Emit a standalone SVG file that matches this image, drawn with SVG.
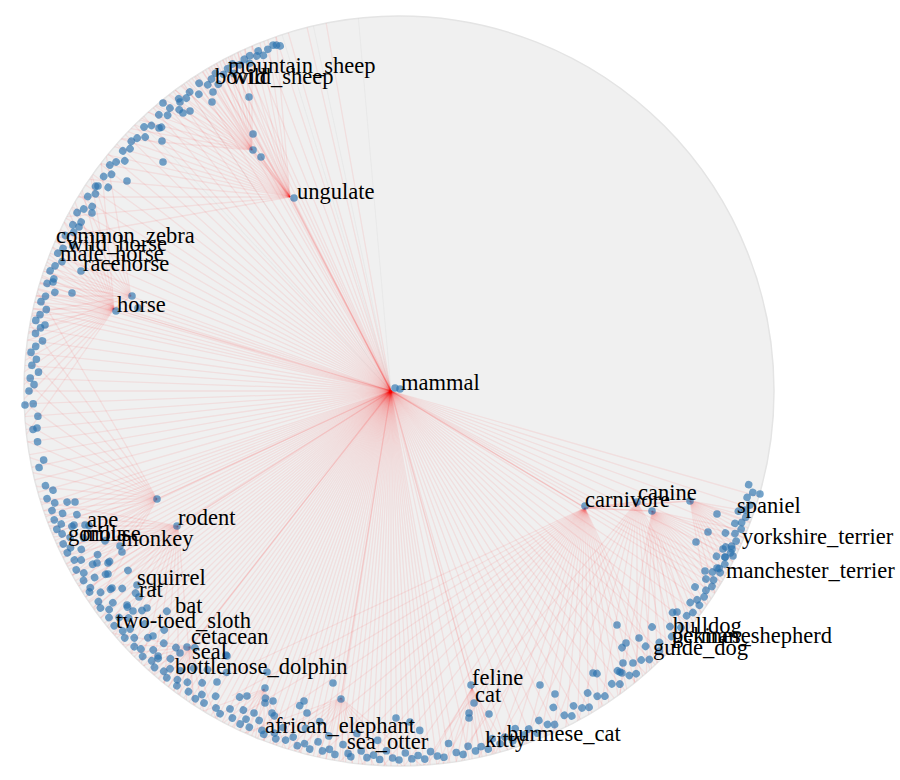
<svg xmlns="http://www.w3.org/2000/svg" width="900" height="780" viewBox="0 0 900 780">
<style>
.e line{stroke:#ff0000;stroke-opacity:.075;stroke-width:1.3}
.e2 line{stroke:#ff0000;stroke-opacity:.14;stroke-width:1.3}
.g line{stroke:#888;stroke-opacity:.07;stroke-width:1}
.d circle,circle.d{fill:#2a72ad;fill-opacity:.65}
text{font-family:"Liberation Serif","Times New Roman",serif;font-size:22.5px;fill:#000}
</style>
<defs>
<clipPath id="disk"><circle cx="399" cy="391" r="375"/></clipPath>
</defs>
<rect width="900" height="780" fill="#fff"/>
<circle id="disk-bg" cx="399" cy="391" r="375" fill="#f0f0f0" stroke="#e4e4e4" stroke-width="1.5"/>
<g id="connectors" clip-path="url(#disk)">
<g class="g" transform="translate(391 391)">
<line x2="450" transform="rotate(-95)"/><line x2="450" transform="rotate(-102)"/><line x2="450" transform="rotate(-124)"/><line x2="450" transform="rotate(-133)"/><line x2="450" transform="rotate(-107)"/>
</g>
<g class="e" transform="translate(391 391)">
<line x2="450" transform="rotate(-100)"/><line x2="450" transform="rotate(-103)"/><line x2="450" transform="rotate(-106)"/><line x2="450" transform="rotate(-108)"/><line x2="450" transform="rotate(-110)"/><line x2="450" transform="rotate(-112)"/><line x2="450" transform="rotate(-114)"/><line x2="450" transform="rotate(-115)"/><line x2="450" transform="rotate(-116)"/><line x2="450" transform="rotate(-117)"/><line x2="450" transform="rotate(-118)"/><line x2="450" transform="rotate(-119)"/><line x2="450" transform="rotate(-120)"/><line x2="450" transform="rotate(-122)"/><line x2="450" transform="rotate(-124)"/><line x2="450" transform="rotate(-126)"/><line x2="450" transform="rotate(-128)"/><line x2="450" transform="rotate(-130)"/><line x2="450" transform="rotate(-132)"/><line x2="450" transform="rotate(-134)"/><line x2="450" transform="rotate(-136)"/><line x2="450" transform="rotate(-138)"/><line x2="450" transform="rotate(-140)"/><line x2="450" transform="rotate(-142)"/><line x2="450" transform="rotate(-144)"/><line x2="450" transform="rotate(-146)"/><line x2="450" transform="rotate(-148)"/><line x2="450" transform="rotate(-150)"/><line x2="450" transform="rotate(-152)"/><line x2="450" transform="rotate(-154)"/><line x2="450" transform="rotate(-156)"/><line x2="450" transform="rotate(-158)"/><line x2="450" transform="rotate(-160)"/><line x2="450" transform="rotate(-161)"/><line x2="450" transform="rotate(-162)"/><line x2="450" transform="rotate(-163)"/><line x2="450" transform="rotate(-164)"/><line x2="450" transform="rotate(-165)"/><line x2="450" transform="rotate(-166)"/><line x2="450" transform="rotate(-167)"/><line x2="450" transform="rotate(-168)"/><line x2="450" transform="rotate(-170)"/><line x2="450" transform="rotate(-172)"/><line x2="450" transform="rotate(-174)"/><line x2="450" transform="rotate(-176)"/><line x2="450" transform="rotate(-178)"/><line x2="450" transform="rotate(-180)"/><line x2="450" transform="rotate(-182)"/><line x2="450" transform="rotate(-184)"/><line x2="450" transform="rotate(-186)"/><line x2="450" transform="rotate(-188)"/><line x2="450" transform="rotate(-190)"/><line x2="450" transform="rotate(-192)"/><line x2="450" transform="rotate(-194)"/><line x2="450" transform="rotate(-196)"/><line x2="450" transform="rotate(-198)"/><line x2="450" transform="rotate(-199)"/><line x2="450" transform="rotate(-200)"/><line x2="450" transform="rotate(-201)"/><line x2="450" transform="rotate(-202)"/><line x2="450" transform="rotate(-203)"/><line x2="450" transform="rotate(-204)"/><line x2="450" transform="rotate(-205)"/><line x2="450" transform="rotate(-206)"/><line x2="450" transform="rotate(-207)"/><line x2="450" transform="rotate(-208)"/><line x2="450" transform="rotate(-209)"/><line x2="450" transform="rotate(-210)"/><line x2="450" transform="rotate(-211)"/><line x2="450" transform="rotate(-212)"/><line x2="450" transform="rotate(-213)"/><line x2="450" transform="rotate(-214)"/><line x2="450" transform="rotate(-215)"/><line x2="450" transform="rotate(-216)"/><line x2="450" transform="rotate(-217)"/><line x2="450" transform="rotate(-218)"/><line x2="450" transform="rotate(-219)"/><line x2="450" transform="rotate(-220)"/><line x2="450" transform="rotate(-221)"/><line x2="450" transform="rotate(-222)"/><line x2="450" transform="rotate(-223)"/><line x2="450" transform="rotate(-224)"/><line x2="450" transform="rotate(-225)"/><line x2="450" transform="rotate(-226)"/><line x2="450" transform="rotate(-227)"/><line x2="450" transform="rotate(-228)"/><line x2="450" transform="rotate(-229)"/><line x2="450" transform="rotate(-230)"/><line x2="450" transform="rotate(-231)"/><line x2="450" transform="rotate(-232)"/><line x2="450" transform="rotate(-233)"/><line x2="450" transform="rotate(-234)"/><line x2="450" transform="rotate(-235)"/><line x2="450" transform="rotate(-236)"/><line x2="450" transform="rotate(-237)"/><line x2="450" transform="rotate(-238)"/><line x2="450" transform="rotate(-239)"/><line x2="450" transform="rotate(-240)"/><line x2="450" transform="rotate(-241)"/><line x2="450" transform="rotate(-242)"/><line x2="450" transform="rotate(-243)"/><line x2="450" transform="rotate(-244)"/><line x2="450" transform="rotate(-245)"/><line x2="450" transform="rotate(-246)"/><line x2="450" transform="rotate(-247)"/><line x2="450" transform="rotate(-248)"/><line x2="450" transform="rotate(-249)"/><line x2="450" transform="rotate(-250)"/><line x2="450" transform="rotate(-251)"/><line x2="450" transform="rotate(-252)"/><line x2="450" transform="rotate(-253)"/><line x2="450" transform="rotate(-254)"/><line x2="450" transform="rotate(-255)"/><line x2="450" transform="rotate(-256)"/><line x2="450" transform="rotate(-257)"/><line x2="450" transform="rotate(-258)"/><line x2="450" transform="rotate(-259)"/><line x2="450" transform="rotate(-260)"/><line x2="450" transform="rotate(-261)"/><line x2="450" transform="rotate(-262)"/><line x2="450" transform="rotate(-263)"/><line x2="450" transform="rotate(-264)"/><line x2="450" transform="rotate(-265)"/><line x2="450" transform="rotate(-266)"/><line x2="450" transform="rotate(-267)"/><line x2="450" transform="rotate(-268)"/><line x2="450" transform="rotate(-269)"/><line x2="450" transform="rotate(-270)"/><line x2="450" transform="rotate(-271)"/><line x2="450" transform="rotate(-272)"/><line x2="450" transform="rotate(-273)"/><line x2="450" transform="rotate(-274)"/><line x2="450" transform="rotate(-275)"/><line x2="450" transform="rotate(-276)"/><line x2="450" transform="rotate(-277)"/><line x2="450" transform="rotate(-278)"/><line x2="450" transform="rotate(-279)"/><line x2="450" transform="rotate(-280)"/><line x2="450" transform="rotate(-282)"/><line x2="450" transform="rotate(-284)"/><line x2="450" transform="rotate(-286)"/><line x2="450" transform="rotate(-288)"/><line x2="450" transform="rotate(-290)"/><line x2="450" transform="rotate(-292)"/><line x2="450" transform="rotate(-294)"/><line x2="450" transform="rotate(-296)"/><line x2="450" transform="rotate(-298)"/><line x2="450" transform="rotate(-300)"/><line x2="450" transform="rotate(-302)"/><line x2="450" transform="rotate(-304)"/><line x2="450" transform="rotate(-306)"/><line x2="450" transform="rotate(-308)"/><line x2="450" transform="rotate(-310)"/><line x2="450" transform="rotate(-312)"/><line x2="450" transform="rotate(-314)"/><line x2="450" transform="rotate(-316)"/><line x2="450" transform="rotate(-318)"/><line x2="450" transform="rotate(-320)"/><line x2="450" transform="rotate(-322)"/><line x2="450" transform="rotate(-324)"/><line x2="450" transform="rotate(-326)"/><line x2="450" transform="rotate(-328)"/><line x2="450" transform="rotate(-329)"/><line x2="450" transform="rotate(-330)"/><line x2="450" transform="rotate(-331)"/><line x2="450" transform="rotate(-332)"/><line x2="450" transform="rotate(-334)"/><line x2="450" transform="rotate(-336)"/><line x2="450" transform="rotate(-338)"/><line x2="450" transform="rotate(-340)"/><line x2="450" transform="rotate(-342)"/><line x2="450" transform="rotate(-344)"/>
</g>
<g class="e2">
<line x1="391" y1="391" x2="290" y2="197"/><line x1="391" y1="391" x2="292" y2="199"/><line x1="391" y1="391" x2="114" y2="309"/><line x1="391" y1="391" x2="157" y2="499"/><line x1="391" y1="391" x2="178" y2="526"/><line x1="391" y1="391" x2="585" y2="508"/><line x1="391" y1="391" x2="190" y2="647"/><line x1="391" y1="391" x2="341" y2="698"/><line x1="391" y1="391" x2="472" y2="688"/><line x1="290" y1="197" x2="252" y2="150"/><line x1="290" y1="197" x2="253" y2="134"/><line x1="290" y1="197" x2="261" y2="157"/><line x1="585" y1="508" x2="637" y2="502"/><line x1="585" y1="508" x2="652" y2="511"/><line x1="585" y1="508" x2="690" y2="501"/><line x1="114" y1="309" x2="131" y2="296"/>
</g>
<g class="e" transform="translate(290 197)">
<line x2="500" transform="rotate(-95)"/><line x2="500" transform="rotate(-98)"/><line x2="500" transform="rotate(-101)"/><line x2="500" transform="rotate(-104)"/><line x2="500" transform="rotate(-107)"/><line x2="500" transform="rotate(-110)"/><line x2="500" transform="rotate(-113)"/><line x2="500" transform="rotate(-116)"/><line x2="500" transform="rotate(-119)"/><line x2="500" transform="rotate(-122)"/><line x2="500" transform="rotate(-125)"/><line x2="500" transform="rotate(-128)"/><line x2="500" transform="rotate(-131)"/><line x2="500" transform="rotate(-134)"/><line x2="500" transform="rotate(-137)"/><line x2="500" transform="rotate(-140)"/><line x2="500" transform="rotate(-143)"/><line x2="500" transform="rotate(-146)"/><line x2="500" transform="rotate(-149)"/><line x2="500" transform="rotate(-152)"/><line x2="500" transform="rotate(-155)"/><line x2="500" transform="rotate(-158)"/><line x2="500" transform="rotate(-161)"/><line x2="500" transform="rotate(-164)"/><line x2="500" transform="rotate(-167)"/><line x2="500" transform="rotate(-170)"/><line x2="500" transform="rotate(-175)"/><line x2="500" transform="rotate(-180)"/><line x2="500" transform="rotate(-185)"/><line x2="500" transform="rotate(-190)"/>
</g>
<g class="e" transform="translate(252 150)">
<line x2="400" transform="rotate(-90)"/><line x2="400" transform="rotate(-94)"/><line x2="400" transform="rotate(-98)"/><line x2="400" transform="rotate(-102)"/><line x2="400" transform="rotate(-106)"/><line x2="400" transform="rotate(-110)"/><line x2="400" transform="rotate(-114)"/><line x2="400" transform="rotate(-118)"/><line x2="400" transform="rotate(-122)"/><line x2="400" transform="rotate(-126)"/><line x2="400" transform="rotate(-130)"/><line x2="400" transform="rotate(-134)"/><line x2="400" transform="rotate(-138)"/><line x2="400" transform="rotate(-142)"/><line x2="400" transform="rotate(-146)"/><line x2="400" transform="rotate(-150)"/><line x2="400" transform="rotate(-155)"/><line x2="400" transform="rotate(-160)"/><line x2="400" transform="rotate(-165)"/><line x2="400" transform="rotate(-170)"/><line x2="400" transform="rotate(-175)"/>
</g>
<g class="e" transform="translate(114 309)">
<line x2="400" transform="rotate(-95)"/><line x2="400" transform="rotate(-100)"/><line x2="400" transform="rotate(-105)"/><line x2="400" transform="rotate(-110)"/><line x2="400" transform="rotate(-115)"/><line x2="400" transform="rotate(-120)"/><line x2="400" transform="rotate(-125)"/><line x2="400" transform="rotate(-130)"/><line x2="400" transform="rotate(-135)"/><line x2="400" transform="rotate(-140)"/><line x2="400" transform="rotate(-145)"/><line x2="400" transform="rotate(-150)"/><line x2="400" transform="rotate(-155)"/><line x2="400" transform="rotate(-160)"/><line x2="400" transform="rotate(-165)"/><line x2="400" transform="rotate(-170)"/><line x2="400" transform="rotate(-175)"/><line x2="400" transform="rotate(-180)"/><line x2="400" transform="rotate(-185)"/><line x2="400" transform="rotate(-190)"/><line x2="400" transform="rotate(-195)"/><line x2="400" transform="rotate(-200)"/><line x2="400" transform="rotate(-205)"/><line x2="400" transform="rotate(-210)"/><line x2="400" transform="rotate(-215)"/><line x2="400" transform="rotate(-220)"/><line x2="400" transform="rotate(-225)"/><line x2="400" transform="rotate(-230)"/><line x2="400" transform="rotate(-235)"/>
</g>
<g class="e" transform="translate(131 296)">
<line x2="400" transform="rotate(-100)"/><line x2="400" transform="rotate(-108)"/><line x2="400" transform="rotate(-116)"/><line x2="400" transform="rotate(-124)"/><line x2="400" transform="rotate(-132)"/><line x2="400" transform="rotate(-140)"/><line x2="400" transform="rotate(-148)"/><line x2="400" transform="rotate(-156)"/><line x2="400" transform="rotate(-164)"/><line x2="400" transform="rotate(-172)"/><line x2="400" transform="rotate(-180)"/><line x2="400" transform="rotate(-190)"/><line x2="400" transform="rotate(-200)"/>
</g>
<g class="e" transform="translate(157 499)">
<line x2="300" transform="rotate(-120)"/><line x2="300" transform="rotate(-126)"/><line x2="300" transform="rotate(-132)"/><line x2="300" transform="rotate(-138)"/><line x2="300" transform="rotate(-144)"/><line x2="300" transform="rotate(-150)"/><line x2="300" transform="rotate(-156)"/><line x2="300" transform="rotate(-162)"/><line x2="300" transform="rotate(-168)"/><line x2="300" transform="rotate(-174)"/><line x2="300" transform="rotate(-180)"/><line x2="300" transform="rotate(-186)"/><line x2="300" transform="rotate(-192)"/><line x2="300" transform="rotate(-198)"/><line x2="300" transform="rotate(-204)"/><line x2="300" transform="rotate(-210)"/><line x2="300" transform="rotate(-216)"/><line x2="300" transform="rotate(-222)"/><line x2="300" transform="rotate(-228)"/><line x2="300" transform="rotate(-234)"/><line x2="300" transform="rotate(-240)"/>
</g>
<g class="e" transform="translate(178 526)">
<line x2="300" transform="rotate(-170)"/><line x2="300" transform="rotate(-175)"/><line x2="300" transform="rotate(-180)"/><line x2="300" transform="rotate(-185)"/><line x2="300" transform="rotate(-190)"/><line x2="300" transform="rotate(-195)"/><line x2="300" transform="rotate(-200)"/><line x2="300" transform="rotate(-205)"/><line x2="300" transform="rotate(-210)"/><line x2="300" transform="rotate(-215)"/><line x2="300" transform="rotate(-220)"/><line x2="300" transform="rotate(-225)"/><line x2="300" transform="rotate(-230)"/><line x2="300" transform="rotate(-235)"/><line x2="300" transform="rotate(-240)"/><line x2="300" transform="rotate(-245)"/><line x2="300" transform="rotate(-250)"/><line x2="300" transform="rotate(-255)"/><line x2="300" transform="rotate(-260)"/><line x2="300" transform="rotate(-265)"/><line x2="300" transform="rotate(-270)"/><line x2="300" transform="rotate(-275)"/>
</g>
<g class="e" transform="translate(190 647)">
<line x2="200" transform="rotate(-170)"/><line x2="200" transform="rotate(-178)"/><line x2="200" transform="rotate(-186)"/><line x2="200" transform="rotate(-194)"/><line x2="200" transform="rotate(-202)"/><line x2="200" transform="rotate(-210)"/><line x2="200" transform="rotate(-218)"/><line x2="200" transform="rotate(-226)"/><line x2="200" transform="rotate(-234)"/><line x2="200" transform="rotate(-242)"/><line x2="200" transform="rotate(-250)"/><line x2="200" transform="rotate(-258)"/><line x2="200" transform="rotate(-266)"/><line x2="200" transform="rotate(-274)"/><line x2="200" transform="rotate(-282)"/><line x2="200" transform="rotate(-290)"/>
</g>
<g class="e" transform="translate(341 698)">
<line x2="200" transform="rotate(-200)"/><line x2="200" transform="rotate(-208)"/><line x2="200" transform="rotate(-216)"/><line x2="200" transform="rotate(-224)"/><line x2="200" transform="rotate(-232)"/><line x2="200" transform="rotate(-240)"/><line x2="200" transform="rotate(-248)"/><line x2="200" transform="rotate(-256)"/><line x2="200" transform="rotate(-264)"/><line x2="200" transform="rotate(-272)"/><line x2="200" transform="rotate(-280)"/><line x2="200" transform="rotate(-288)"/><line x2="200" transform="rotate(-296)"/><line x2="200" transform="rotate(-304)"/><line x2="200" transform="rotate(-312)"/><line x2="200" transform="rotate(-320)"/>
</g>
<g class="e" transform="translate(264 689)">
<line x2="200" transform="rotate(-200)"/><line x2="200" transform="rotate(-210)"/><line x2="200" transform="rotate(-220)"/><line x2="200" transform="rotate(-230)"/><line x2="200" transform="rotate(-240)"/><line x2="200" transform="rotate(-250)"/><line x2="200" transform="rotate(-260)"/><line x2="200" transform="rotate(-270)"/><line x2="200" transform="rotate(-280)"/><line x2="200" transform="rotate(-290)"/><line x2="200" transform="rotate(-300)"/>
</g>
<g class="e" transform="translate(472 688)">
<line x2="200" transform="rotate(-240)"/><line x2="200" transform="rotate(-246)"/><line x2="200" transform="rotate(-252)"/><line x2="200" transform="rotate(-258)"/><line x2="200" transform="rotate(-264)"/><line x2="200" transform="rotate(-270)"/><line x2="200" transform="rotate(-276)"/><line x2="200" transform="rotate(-282)"/><line x2="200" transform="rotate(-288)"/><line x2="200" transform="rotate(-294)"/><line x2="200" transform="rotate(-300)"/>
</g>
<g class="e" transform="translate(585 508)">
<line x2="400" transform="rotate(-205)"/><line x2="400" transform="rotate(-208)"/><line x2="400" transform="rotate(-211)"/><line x2="400" transform="rotate(-214)"/><line x2="400" transform="rotate(-217)"/><line x2="400" transform="rotate(-220)"/><line x2="400" transform="rotate(-223)"/><line x2="400" transform="rotate(-226)"/><line x2="400" transform="rotate(-229)"/><line x2="400" transform="rotate(-232)"/><line x2="400" transform="rotate(-235)"/><line x2="400" transform="rotate(-238)"/><line x2="400" transform="rotate(-241)"/><line x2="400" transform="rotate(-244)"/><line x2="400" transform="rotate(-247)"/><line x2="400" transform="rotate(-250)"/><line x2="400" transform="rotate(-253)"/><line x2="400" transform="rotate(-256)"/><line x2="400" transform="rotate(-259)"/><line x2="400" transform="rotate(-262)"/><line x2="400" transform="rotate(-265)"/><line x2="400" transform="rotate(-268)"/><line x2="400" transform="rotate(-271)"/><line x2="400" transform="rotate(-274)"/><line x2="400" transform="rotate(-277)"/><line x2="400" transform="rotate(-280)"/><line x2="400" transform="rotate(-283)"/><line x2="400" transform="rotate(-286)"/><line x2="400" transform="rotate(-289)"/><line x2="400" transform="rotate(-292)"/><line x2="400" transform="rotate(-295)"/>
</g>
<g class="e" transform="translate(637 502)">
<line x2="300" transform="rotate(-230)"/><line x2="300" transform="rotate(-235)"/><line x2="300" transform="rotate(-240)"/><line x2="300" transform="rotate(-245)"/><line x2="300" transform="rotate(-250)"/><line x2="300" transform="rotate(-255)"/><line x2="300" transform="rotate(-260)"/><line x2="300" transform="rotate(-265)"/><line x2="300" transform="rotate(-270)"/><line x2="300" transform="rotate(-275)"/><line x2="300" transform="rotate(-280)"/><line x2="300" transform="rotate(-285)"/><line x2="300" transform="rotate(-290)"/><line x2="300" transform="rotate(-295)"/><line x2="300" transform="rotate(-300)"/>
</g>
<g class="e" transform="translate(652 511)">
<line x2="300" transform="rotate(-260)"/><line x2="300" transform="rotate(-264)"/><line x2="300" transform="rotate(-268)"/><line x2="300" transform="rotate(-272)"/><line x2="300" transform="rotate(-276)"/><line x2="300" transform="rotate(-280)"/><line x2="300" transform="rotate(-284)"/><line x2="300" transform="rotate(-288)"/><line x2="300" transform="rotate(-292)"/><line x2="300" transform="rotate(-296)"/><line x2="300" transform="rotate(-300)"/><line x2="300" transform="rotate(-304)"/><line x2="300" transform="rotate(-308)"/><line x2="300" transform="rotate(-312)"/><line x2="300" transform="rotate(-316)"/><line x2="300" transform="rotate(-320)"/><line x2="300" transform="rotate(-324)"/><line x2="300" transform="rotate(-328)"/><line x2="300" transform="rotate(-332)"/><line x2="300" transform="rotate(-336)"/><line x2="300" transform="rotate(-340)"/><line x2="300" transform="rotate(-344)"/><line x2="300" transform="rotate(-348)"/>
</g>
<g class="e" transform="translate(690 501)">
<line x2="300" transform="rotate(-280)"/><line x2="300" transform="rotate(-285)"/><line x2="300" transform="rotate(-290)"/><line x2="300" transform="rotate(-295)"/><line x2="300" transform="rotate(-300)"/><line x2="300" transform="rotate(-305)"/><line x2="300" transform="rotate(-310)"/><line x2="300" transform="rotate(-315)"/><line x2="300" transform="rotate(-320)"/><line x2="300" transform="rotate(-325)"/><line x2="300" transform="rotate(-330)"/><line x2="300" transform="rotate(-335)"/><line x2="300" transform="rotate(-340)"/><line x2="300" transform="rotate(-345)"/><line x2="300" transform="rotate(-350)"/>
</g>
</g>
<g id="leaves" class="d">
<g transform="translate(399 391)">
<circle r="3.8" cx="367" transform="rotate(-109.5)"/><circle r="3.8" cx="365" transform="rotate(-109)"/><circle r="3.8" cx="368" transform="rotate(-110)"/><circle r="3.8" cx="366" transform="rotate(-111)"/><circle r="3.8" cx="362" transform="rotate(-112)"/><circle r="3.8" cx="368" transform="rotate(-112.5)"/><circle r="3.8" cx="364" transform="rotate(-113)"/><circle r="3.8" cx="367" transform="rotate(-114)"/><circle r="3.8" cx="360" transform="rotate(-114.5)"/><circle r="3.8" cx="366" transform="rotate(-115)"/><circle r="3.8" cx="363" transform="rotate(-116)"/><circle r="3.8" cx="367" transform="rotate(-117)"/><circle r="3.8" cx="358" transform="rotate(-117.5)"/><circle r="3.8" cx="365" transform="rotate(-118)"/><circle r="3.8" cx="362" transform="rotate(-119)"/><circle r="3.8" cx="367" transform="rotate(-120)"/><circle r="3.8" cx="356" transform="rotate(-120.5)"/><circle r="3.8" cx="364" transform="rotate(-121)"/><circle r="3.8" cx="361" transform="rotate(-122)"/><circle r="3.8" cx="367" transform="rotate(-123)"/><circle r="3.8" cx="358" transform="rotate(-124)"/><circle r="3.8" cx="365" transform="rotate(-125)"/><circle r="3.8" cx="362" transform="rotate(-126)"/><circle r="3.8" cx="366" transform="rotate(-127)"/><circle r="3.8" cx="357" transform="rotate(-128)"/><circle r="3.8" cx="364" transform="rotate(-129)"/><circle r="3.8" cx="360" transform="rotate(-130)"/><circle r="3.8" cx="366" transform="rotate(-131)"/><circle r="3.8" cx="355" transform="rotate(-132)"/><circle r="3.8" cx="363" transform="rotate(-133)"/><circle r="3.8" cx="367" transform="rotate(-134)"/><circle r="3.8" cx="359" transform="rotate(-135)"/><circle r="3.8" cx="364" transform="rotate(-136)"/><circle r="3.8" cx="366" transform="rotate(-137)"/>
<circle r="3.8" cx="362" transform="rotate(-138)"/><circle r="3.8" cx="366" transform="rotate(-139)"/><circle r="3.8" cx="358" transform="rotate(-140)"/><circle r="3.8" cx="364" transform="rotate(-141)"/><circle r="3.8" cx="367" transform="rotate(-142)"/><circle r="3.8" cx="360" transform="rotate(-143)"/><circle r="3.8" cx="365" transform="rotate(-144)"/><circle r="3.8" cx="355" transform="rotate(-145)"/><circle r="3.8" cx="366" transform="rotate(-146)"/><circle r="3.8" cx="362" transform="rotate(-147)"/><circle r="3.8" cx="367" transform="rotate(-148)"/><circle r="3.8" cx="358" transform="rotate(-149)"/><circle r="3.8" cx="364" transform="rotate(-150)"/><circle r="3.8" cx="368" transform="rotate(-151)"/><circle r="3.8" cx="360" transform="rotate(-152)"/><circle r="3.8" cx="366" transform="rotate(-153)"/><circle r="3.8" cx="362" transform="rotate(-154)"/><circle r="3.8" cx="368" transform="rotate(-155)"/><circle r="3.8" cx="357" transform="rotate(-156)"/><circle r="3.8" cx="365" transform="rotate(-157)"/><circle r="3.8" cx="368" transform="rotate(-158)"/><circle r="3.8" cx="361" transform="rotate(-159)"/><circle r="3.8" cx="366" transform="rotate(-160)"/><circle r="3.8" cx="369" transform="rotate(-161)"/><circle r="3.8" cx="363" transform="rotate(-162)"/><circle r="3.8" cx="368" transform="rotate(-163)"/><circle r="3.8" cx="358" transform="rotate(-164)"/><circle r="3.8" cx="366" transform="rotate(-165)"/><circle r="3.8" cx="369" transform="rotate(-166)"/><circle r="3.8" cx="362" transform="rotate(-167)"/><circle r="3.8" cx="367" transform="rotate(-168)"/><circle r="3.8" cx="370" transform="rotate(-169)"/><circle r="3.8" cx="364" transform="rotate(-170)"/><circle r="3.8" cx="368" transform="rotate(-171)"/><circle r="3.8" cx="360" transform="rotate(-172)"/>
<circle r="3.8" cx="366" transform="rotate(-173)"/><circle r="3.8" cx="370" transform="rotate(-174)"/><circle r="3.8" cx="364" transform="rotate(-175)"/><circle r="3.8" cx="368" transform="rotate(-176)"/><circle r="3.8" cx="361" transform="rotate(-177)"/><circle r="3.8" cx="369" transform="rotate(-178)"/><circle r="3.8" cx="365" transform="rotate(-179)"/><circle r="3.8" cx="370" transform="rotate(-180)"/><circle r="3.8" cx="366" transform="rotate(-182)"/><circle r="3.8" cx="362" transform="rotate(-184)"/><circle r="3.8" cx="368" transform="rotate(-186)"/><circle r="3.8" cx="365" transform="rotate(-188)"/><circle r="3.8" cx="362" transform="rotate(-191)"/><circle r="3.8" cx="368" transform="rotate(-192)"/>
<circle r="3.8" cx="366" transform="rotate(-195)"/><circle r="3.8" cx="360" transform="rotate(-196)"/><circle r="3.8" cx="368" transform="rotate(-197)"/><circle r="3.8" cx="362" transform="rotate(-198)"/><circle r="3.8" cx="350" transform="rotate(-198.5)"/><circle r="3.8" cx="367" transform="rotate(-199)"/><circle r="3.8" cx="358" transform="rotate(-200)"/><circle r="3.8" cx="368" transform="rotate(-200.5)"/><circle r="3.8" cx="345" transform="rotate(-201)"/><circle r="3.8" cx="363" transform="rotate(-201.5)"/><circle r="3.8" cx="369" transform="rotate(-202)"/><circle r="3.8" cx="354" transform="rotate(-202.5)"/><circle r="3.8" cx="366" transform="rotate(-203)"/><circle r="3.8" cx="338" transform="rotate(-203.5)"/><circle r="3.8" cx="360" transform="rotate(-204)"/><circle r="3.8" cx="369" transform="rotate(-204.5)"/><circle r="3.8" cx="348" transform="rotate(-205)"/><circle r="3.8" cx="364" transform="rotate(-205.5)"/><circle r="3.8" cx="369" transform="rotate(-206)"/><circle r="3.8" cx="355" transform="rotate(-206.5)"/><circle r="3.8" cx="330" transform="rotate(-207)"/><circle r="3.8" cx="366" transform="rotate(-207.5)"/><circle r="3.8" cx="360" transform="rotate(-208)"/><circle r="3.8" cx="343" transform="rotate(-208.5)"/><circle r="3.8" cx="369" transform="rotate(-209)"/><circle r="3.8" cx="352" transform="rotate(-209.5)"/><circle r="3.8" cx="364" transform="rotate(-210)"/><circle r="3.8" cx="336" transform="rotate(-210.5)"/><circle r="3.8" cx="368" transform="rotate(-211)"/><circle r="3.8" cx="357" transform="rotate(-211.5)"/><circle r="3.8" cx="346" transform="rotate(-212)"/><circle r="3.8" cx="366" transform="rotate(-212.5)"/><circle r="3.8" cx="369" transform="rotate(-213)"/><circle r="3.8" cx="325" transform="rotate(-213.5)"/><circle r="3.8" cx="360" transform="rotate(-214)"/><circle r="3.8" cx="350" transform="rotate(-214.5)"/><circle r="3.8" cx="367" transform="rotate(-215)"/><circle r="3.8" cx="340" transform="rotate(-215.5)"/><circle r="3.8" cx="369" transform="rotate(-216)"/><circle r="3.8" cx="356" transform="rotate(-216.5)"/><circle r="3.8" cx="363" transform="rotate(-217)"/><circle r="3.8" cx="332" transform="rotate(-217.5)"/><circle r="3.8" cx="368" transform="rotate(-218)"/><circle r="3.8" cx="347" transform="rotate(-218.5)"/><circle r="3.8" cx="360" transform="rotate(-219)"/><circle r="3.8" cx="369" transform="rotate(-219.5)"/><circle r="3.8" cx="353" transform="rotate(-220)"/><circle r="3.8" cx="338" transform="rotate(-220.5)"/><circle r="3.8" cx="366" transform="rotate(-221)"/><circle r="3.8" cx="359" transform="rotate(-221.5)"/><circle r="3.8" cx="369" transform="rotate(-222)"/><circle r="3.8" cx="345" transform="rotate(-222.5)"/><circle r="3.8" cx="362" transform="rotate(-223)"/><circle r="3.8" cx="320" transform="rotate(-223.5)"/><circle r="3.8" cx="368" transform="rotate(-224)"/><circle r="3.8" cx="352" transform="rotate(-224.5)"/><circle r="3.8" cx="365" transform="rotate(-225)"/><circle r="3.8" cx="335" transform="rotate(-225.5)"/><circle r="3.8" cx="369" transform="rotate(-226)"/><circle r="3.8" cx="357" transform="rotate(-226.5)"/><circle r="3.8" cx="345" transform="rotate(-227)"/><circle r="3.8" cx="366" transform="rotate(-227.5)"/><circle r="3.8" cx="360" transform="rotate(-228)"/><circle r="3.8" cx="369" transform="rotate(-228.5)"/><circle r="3.8" cx="340" transform="rotate(-229)"/><circle r="3.8" cx="352" transform="rotate(-229.5)"/><circle r="3.8" cx="366" transform="rotate(-230)"/><circle r="3.8" cx="360" transform="rotate(-230.5)"/><circle r="3.8" cx="369" transform="rotate(-231)"/><circle r="3.8" cx="328" transform="rotate(-231.5)"/><circle r="3.8" cx="355" transform="rotate(-232)"/><circle r="3.8" cx="364" transform="rotate(-232.5)"/><circle r="3.8" cx="369" transform="rotate(-233)"/><circle r="3.8" cx="345" transform="rotate(-233.5)"/><circle r="3.8" cx="360" transform="rotate(-234)"/><circle r="3.8" cx="367" transform="rotate(-235)"/><circle r="3.8" cx="338" transform="rotate(-235.5)"/><circle r="3.8" cx="352" transform="rotate(-236)"/><circle r="3.8" cx="369" transform="rotate(-236.5)"/><circle r="3.8" cx="362" transform="rotate(-237)"/><circle r="3.8" cx="368" transform="rotate(-238)"/><circle r="3.8" cx="330" transform="rotate(-238.5)"/><circle r="3.8" cx="356" transform="rotate(-239)"/><circle r="3.8" cx="366" transform="rotate(-240)"/>
<circle r="3.8" cx="369" transform="rotate(-241)"/><circle r="3.8" cx="360" transform="rotate(-242)"/><circle r="3.8" cx="345" transform="rotate(-242.5)"/><circle r="3.8" cx="367" transform="rotate(-243)"/><circle r="3.8" cx="355" transform="rotate(-244)"/><circle r="3.8" cx="369" transform="rotate(-244.5)"/><circle r="3.8" cx="362" transform="rotate(-245)"/><circle r="3.8" cx="368" transform="rotate(-246)"/><circle r="3.8" cx="335" transform="rotate(-246.5)"/><circle r="3.8" cx="358" transform="rotate(-247)"/><circle r="3.8" cx="366" transform="rotate(-248)"/><circle r="3.8" cx="369" transform="rotate(-248.5)"/><circle r="3.8" cx="348" transform="rotate(-249)"/><circle r="3.8" cx="364" transform="rotate(-250)"/><circle r="3.8" cx="369" transform="rotate(-250.5)"/><circle r="3.8" cx="356" transform="rotate(-251)"/><circle r="3.8" cx="367" transform="rotate(-252)"/><circle r="3.8" cx="330" transform="rotate(-252.5)"/><circle r="3.8" cx="362" transform="rotate(-253)"/><circle r="3.8" cx="369" transform="rotate(-254)"/><circle r="3.8" cx="350" transform="rotate(-254.5)"/><circle r="3.8" cx="365" transform="rotate(-255)"/><circle r="3.8" cx="369" transform="rotate(-256)"/><circle r="3.8" cx="340" transform="rotate(-256.5)"/><circle r="3.8" cx="360" transform="rotate(-257)"/><circle r="3.8" cx="368" transform="rotate(-258)"/><circle r="3.8" cx="352" transform="rotate(-258.5)"/><circle r="3.8" cx="365" transform="rotate(-259)"/><circle r="3.8" cx="369" transform="rotate(-260)"/><circle r="3.8" cx="358" transform="rotate(-261)"/><circle r="3.8" cx="366" transform="rotate(-262)"/><circle r="3.8" cx="369" transform="rotate(-262.5)"/><circle r="3.8" cx="345" transform="rotate(-263)"/><circle r="3.8" cx="362" transform="rotate(-264)"/><circle r="3.8" cx="368" transform="rotate(-265)"/><circle r="3.8" cx="365" transform="rotate(-266)"/><circle r="3.8" cx="350" transform="rotate(-266.5)"/><circle r="3.8" cx="369" transform="rotate(-267)"/><circle r="3.8" cx="360" transform="rotate(-268)"/><circle r="3.8" cx="367" transform="rotate(-269)"/><circle r="3.8" cx="369" transform="rotate(-270)"/><circle r="3.8" cx="362" transform="rotate(-271)"/><circle r="3.8" cx="368" transform="rotate(-272)"/><circle r="3.8" cx="365" transform="rotate(-273)"/><circle r="3.8" cx="340" transform="rotate(-273.5)"/><circle r="3.8" cx="369" transform="rotate(-274)"/><circle r="3.8" cx="362" transform="rotate(-275)"/><circle r="3.8" cx="367" transform="rotate(-276)"/><circle r="3.8" cx="369" transform="rotate(-277)"/><circle r="3.8" cx="356" transform="rotate(-278)"/><circle r="3.8" cx="366" transform="rotate(-279)"/><circle r="3.8" cx="369" transform="rotate(-280)"/><circle r="3.8" cx="362" transform="rotate(-281)"/><circle r="3.8" cx="368" transform="rotate(-282)"/><circle r="3.8" cx="365" transform="rotate(-283)"/><circle r="3.8" cx="369" transform="rotate(-284)"/><circle r="3.8" cx="360" transform="rotate(-285)"/>
<circle r="3.8" cx="367" transform="rotate(-286)"/><circle r="3.8" cx="362" transform="rotate(-287)"/><circle r="3.8" cx="368" transform="rotate(-288)"/><circle r="3.8" cx="357" transform="rotate(-289)"/><circle r="3.8" cx="366" transform="rotate(-290)"/><circle r="3.8" cx="362" transform="rotate(-291)"/><circle r="3.8" cx="369" transform="rotate(-292)"/><circle r="3.8" cx="358" transform="rotate(-293)"/><circle r="3.8" cx="365" transform="rotate(-294)"/><circle r="3.8" cx="368" transform="rotate(-295)"/><circle r="3.8" cx="352" transform="rotate(-296)"/><circle r="3.8" cx="364" transform="rotate(-297)"/><circle r="3.8" cx="368" transform="rotate(-298)"/><circle r="3.8" cx="360" transform="rotate(-299)"/><circle r="3.8" cx="366" transform="rotate(-300)"/><circle r="3.8" cx="369" transform="rotate(-301)"/><circle r="3.8" cx="356" transform="rotate(-302)"/><circle r="3.8" cx="364" transform="rotate(-303)"/><circle r="3.8" cx="368" transform="rotate(-304)"/><circle r="3.8" cx="345" transform="rotate(-305)"/><circle r="3.8" cx="362" transform="rotate(-306)"/><circle r="3.8" cx="367" transform="rotate(-307)"/><circle r="3.8" cx="355" transform="rotate(-308)"/><circle r="3.8" cx="366" transform="rotate(-309)"/><circle r="3.8" cx="369" transform="rotate(-310)"/><circle r="3.8" cx="340" transform="rotate(-311)"/><circle r="3.8" cx="362" transform="rotate(-312)"/><circle r="3.8" cx="367" transform="rotate(-313)"/><circle r="3.8" cx="355" transform="rotate(-314)"/><circle r="3.8" cx="368" transform="rotate(-315)"/><circle r="3.8" cx="362" transform="rotate(-316)"/><circle r="3.8" cx="346" transform="rotate(-317)"/><circle r="3.8" cx="367" transform="rotate(-318)"/><circle r="3.8" cx="359" transform="rotate(-319)"/><circle r="3.8" cx="368" transform="rotate(-320)"/><circle r="3.8" cx="352" transform="rotate(-321)"/><circle r="3.8" cx="365" transform="rotate(-322)"/>
<circle r="3.8" cx="368" transform="rotate(-323)"/><circle r="3.8" cx="360" transform="rotate(-324)"/><circle r="3.8" cx="369" transform="rotate(-324.5)"/><circle r="3.8" cx="364" transform="rotate(-325)"/><circle r="3.8" cx="368" transform="rotate(-326)"/><circle r="3.8" cx="355" transform="rotate(-326.5)"/><circle r="3.8" cx="366" transform="rotate(-327)"/><circle r="3.8" cx="369" transform="rotate(-328)"/><circle r="3.8" cx="360" transform="rotate(-328.5)"/><circle r="3.8" cx="367" transform="rotate(-329)"/><circle r="3.8" cx="362" transform="rotate(-330)"/><circle r="3.8" cx="369" transform="rotate(-330.5)"/><circle r="3.8" cx="366" transform="rotate(-331)"/><circle r="3.8" cx="369" transform="rotate(-332)"/><circle r="3.8" cx="358" transform="rotate(-332.5)"/><circle r="3.8" cx="366" transform="rotate(-333)"/><circle r="3.8" cx="369" transform="rotate(-334)"/><circle r="3.8" cx="362" transform="rotate(-334.5)"/><circle r="3.8" cx="367" transform="rotate(-335)"/><circle r="3.8" cx="369" transform="rotate(-336)"/><circle r="3.8" cx="356" transform="rotate(-336.5)"/><circle r="3.8" cx="365" transform="rotate(-337)"/><circle r="3.8" cx="369" transform="rotate(-338)"/><circle r="3.8" cx="361" transform="rotate(-338.5)"/><circle r="3.8" cx="367" transform="rotate(-339)"/><circle r="3.8" cx="369" transform="rotate(-340)"/><circle r="3.8" cx="360" transform="rotate(-340.5)"/><circle r="3.8" cx="366" transform="rotate(-341)"/><circle r="3.8" cx="369" transform="rotate(-342)"/><circle r="3.8" cx="364" transform="rotate(-343)"/><circle r="3.8" cx="368" transform="rotate(-344)"/><circle r="3.8" cx="362" transform="rotate(-345)"/>
</g>
<circle r="3.8" cx="249" cy="97"/><circle r="3.8" cx="213" cy="92"/><circle r="3.8" cx="212" cy="102"/><circle r="3.8" cx="190" cy="111"/><circle r="3.8" cx="183" cy="113"/><circle r="3.8" cx="180" cy="102"/><circle r="3.8" cx="163" cy="103"/><circle r="3.8" cx="159" cy="128"/><circle r="3.8" cx="162" cy="141"/><circle r="3.8" cx="163" cy="162"/><circle r="3.8" cx="127" cy="181"/><circle r="3.8" cx="98" cy="186"/><circle r="3.8" cx="92" cy="213"/><circle r="3.8" cx="253" cy="134"/><circle r="3.8" cx="253" cy="150"/><circle r="3.8" cx="261" cy="157"/>
<circle r="3.8" cx="79" cy="227"/><circle r="3.8" cx="81" cy="271"/><circle r="3.8" cx="53" cy="282"/><circle r="3.8" cx="72" cy="293"/><circle r="3.8" cx="45" cy="325"/><circle r="3.8" cx="132" cy="296"/><circle r="3.8" cx="138" cy="308"/><circle r="3.8" cx="37" cy="428"/><circle r="3.8" cx="25" cy="405"/>
<circle r="3.8" cx="75" cy="502"/><circle r="3.8" cx="74" cy="525"/><circle r="3.8" cx="85" cy="525"/><circle r="3.8" cx="122" cy="552"/><circle r="3.8" cx="97" cy="563"/><circle r="3.8" cx="108" cy="563"/><circle r="3.8" cx="108" cy="574"/><circle r="3.8" cx="112" cy="588"/><circle r="3.8" cx="147" cy="608"/><circle r="3.8" cx="133" cy="611"/><circle r="3.8" cx="127" cy="605"/><circle r="3.8" cx="153" cy="636"/><circle r="3.8" cx="158" cy="656"/><circle r="3.8" cx="180" cy="653"/><circle r="3.8" cx="226" cy="655"/><circle r="3.8" cx="217" cy="682"/>
<circle r="3.8" cx="227" cy="656"/><circle r="3.8" cx="267" cy="672"/><circle r="3.8" cx="247" cy="696"/><circle r="3.8" cx="265" cy="703"/><circle r="3.8" cx="273" cy="701"/><circle r="3.8" cx="304" cy="701"/><circle r="3.8" cx="307" cy="713"/><circle r="3.8" cx="333" cy="683"/><circle r="3.8" cx="272" cy="713"/><circle r="3.8" cx="254" cy="713"/><circle r="3.8" cx="396" cy="718"/><circle r="3.8" cx="410" cy="722"/><circle r="3.8" cx="265" cy="688"/>
<circle r="3.8" cx="469" cy="713"/><circle r="3.8" cx="469" cy="718"/><circle r="3.8" cx="489" cy="714"/><circle r="3.8" cx="540" cy="685"/><circle r="3.8" cx="555" cy="694"/><circle r="3.8" cx="593" cy="673"/><circle r="3.8" cx="623" cy="663"/><circle r="3.8" cx="622" cy="673"/>
<circle r="3.8" cx="617" cy="625"/><circle r="3.8" cx="639" cy="638"/><circle r="3.8" cx="626" cy="643"/><circle r="3.8" cx="677" cy="612"/><circle r="3.8" cx="633" cy="663"/><circle r="3.8" cx="620" cy="672"/><circle r="3.8" cx="717" cy="514"/><circle r="3.8" cx="708" cy="532"/><circle r="3.8" cx="696" cy="542"/><circle r="3.8" cx="723" cy="549"/><circle r="3.8" cx="732" cy="549"/><circle r="3.8" cx="725" cy="557"/><circle r="3.8" cx="733" cy="556"/><circle r="3.8" cx="717" cy="568"/><circle r="3.8" cx="705" cy="571"/><circle r="3.8" cx="690" cy="501"/><circle r="3.8" cx="637" cy="502"/>
</g>
<g id="n-mammal"><circle class="d" r="3.8" cx="395" cy="388"/><circle class="d" r="3.8" cx="400" cy="389"/><text x="401" y="390">mammal</text></g>
<g id="n-ungulate"><circle class="d" r="3.8" cx="294" cy="198"/><text x="297" y="199">ungulate</text></g>
<g id="n-mountain_sheep"><text x="228" y="73">mountain_sheep</text></g>
<g id="n-bovid"><text x="215" y="84">bovid</text></g>
<g id="n-wild_sheep"><text x="231" y="84">wild_sheep</text></g>
<g id="n-common_zebra"><text x="56" y="243">common_zebra</text></g>
<g id="n-wild_horse"><text x="67" y="251">wild_horse</text></g>
<g id="n-male_horse"><text x="60" y="261">male_horse</text></g>
<g id="n-racehorse"><text x="83" y="271">racehorse</text></g>
<g id="n-horse"><circle class="d" r="3.8" cx="116" cy="311"/><text x="117" y="312">horse</text></g>
<g id="n-ape"><circle class="d" r="3.8" cx="157" cy="499"/><text x="87" y="527">ape</text></g>
<g id="n-gorilla"><text x="68" y="541">gorilla</text></g>
<g id="n-mouse"><text x="82" y="541">mouse</text></g>
<g id="n-monkey"><circle class="d" r="3.8" cx="120" cy="546"/><text x="121" y="546">monkey</text></g>
<g id="n-rodent"><circle class="d" r="3.8" cx="177" cy="526"/><text x="178" y="525">rodent</text></g>
<g id="n-squirrel"><circle class="d" r="3.8" cx="137" cy="585"/><text x="137" y="585">squirrel</text></g>
<g id="n-rat"><circle class="d" r="3.8" cx="139" cy="597"/><text x="139" y="597">rat</text></g>
<g id="n-bat"><text x="175" y="613">bat</text></g>
<g id="n-two-toed_sloth"><text x="116" y="628">two-toed_sloth</text></g>
<g id="n-cetacean"><circle class="d" r="3.8" cx="187" cy="647"/><text x="191" y="644">cetacean</text></g>
<g id="n-seal"><text x="192" y="659">seal</text></g>
<g id="n-bottlenose_dolphin"><text x="175" y="674">bottlenose_dolphin</text></g>
<g id="n-african_elephant"><circle class="d" r="3.8" cx="341" cy="699"/><text x="265" y="733">african_elephant</text></g>
<g id="n-sea_otter"><text x="347" y="749">sea_otter</text></g>
<g id="n-feline"><circle class="d" r="3.8" cx="471" cy="685"/><text x="472" y="685">feline</text></g>
<g id="n-cat"><circle class="d" r="3.8" cx="474" cy="703"/><text x="475" y="702">cat</text></g>
<g id="n-kitty"><text x="485" y="747">kitty</text></g>
<g id="n-burmese_cat"><text x="507" y="741">burmese_cat</text></g>
<g id="n-carnivore"><circle class="d" r="3.8" cx="585" cy="506"/><text x="585" y="507">carnivore</text></g>
<g id="n-canine"><circle class="d" r="3.8" cx="652" cy="511"/><text x="638" y="500">canine</text></g>
<g id="n-spaniel"><circle class="d" r="3.8" cx="760" cy="494"/><text x="737" y="513">spaniel</text></g>
<g id="n-yorkshire_terrier"><text x="742" y="544">yorkshire_terrier</text></g>
<g id="n-manchester_terrier"><text x="726" y="578">manchester_terrier</text></g>
<g id="n-bulldog"><text x="673" y="633">bulldog</text></g>
<g id="n-german_shepherd"><text x="672" y="643">german_shepherd</text></g>
<g id="n-pekinese"><text x="672" y="643">pekinese</text></g>
<g id="n-guide_dog"><text x="653" y="655">guide_dog</text></g>
</svg>
